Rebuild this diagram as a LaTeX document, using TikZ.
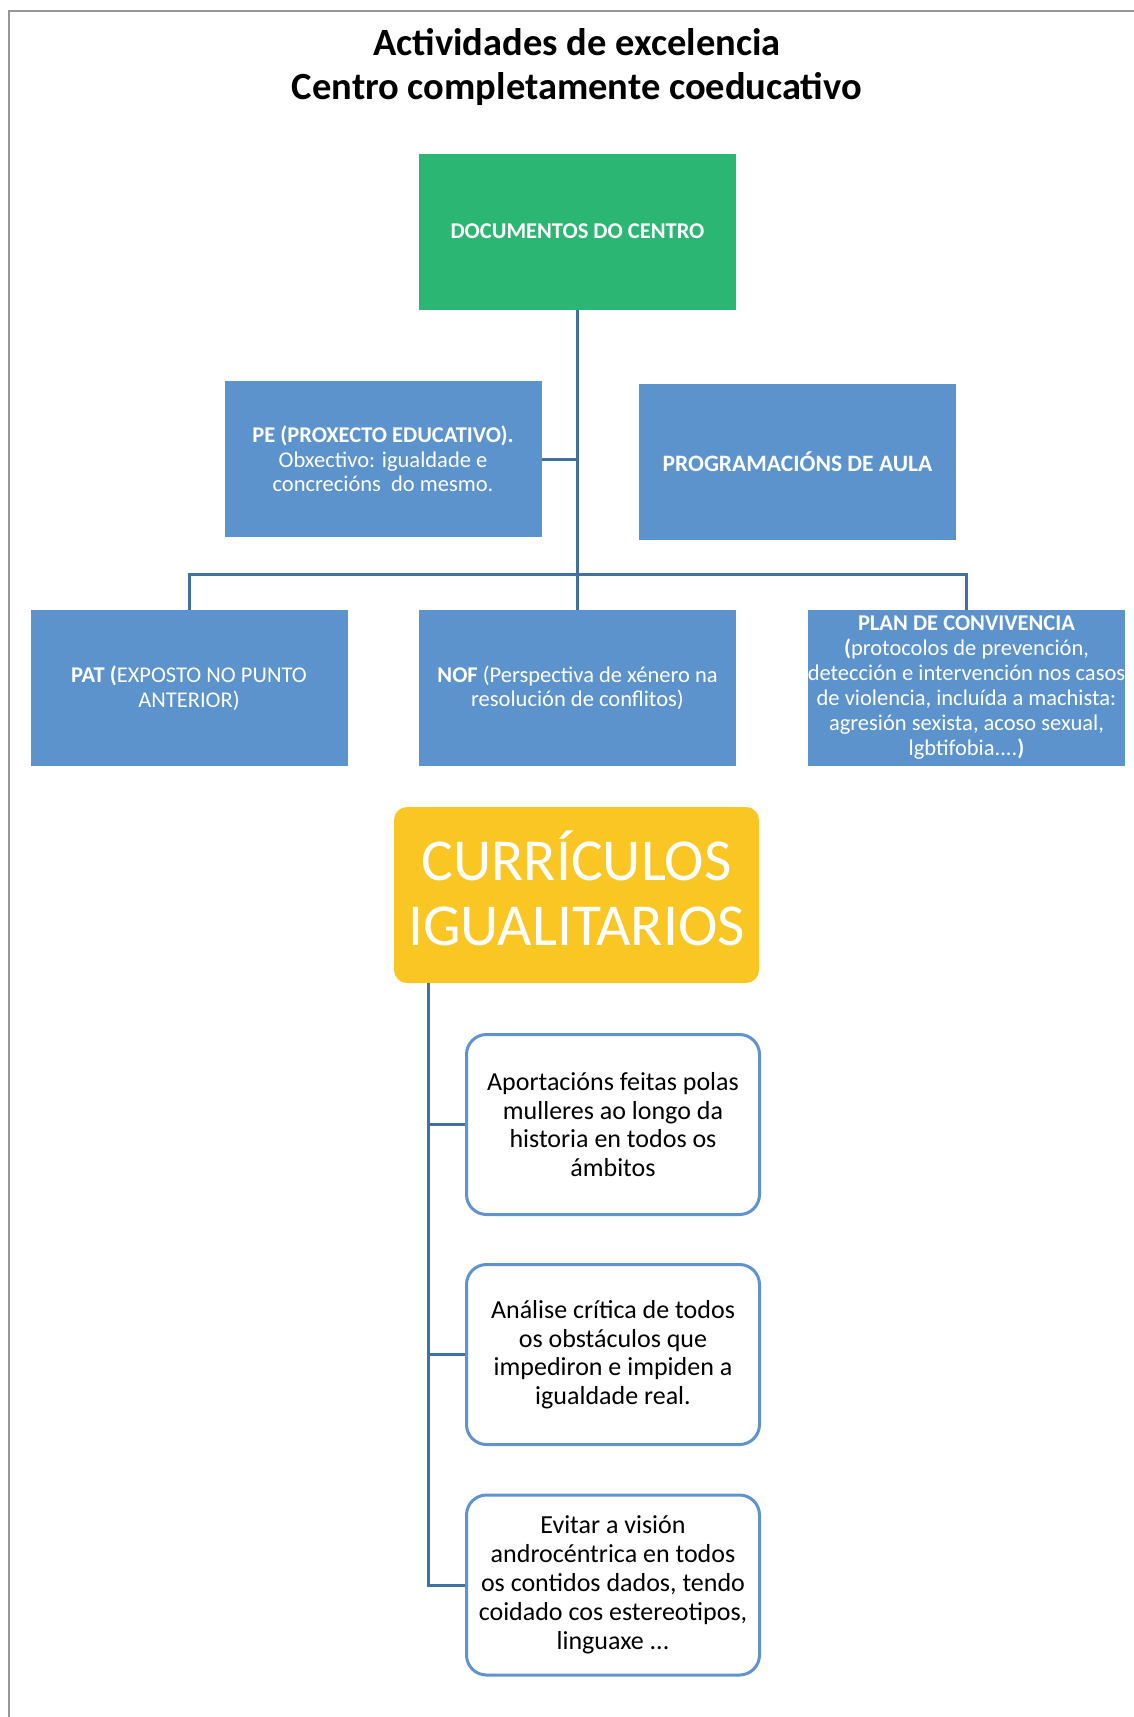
\documentclass[tikz,border=0pt]{standalone}
\usepackage{fontspec}
\setmainfont{Carlito}
\usetikzlibrary{positioning}
\definecolor{verde}{RGB}{43,182,115}
\definecolor{azul}{RGB}{92,147,204}
\definecolor{linha}{RGB}{66,112,160}
\definecolor{amarelo}{RGB}{249,198,35}
\definecolor{bordo}{RGB}{96,146,206}
\definecolor{marco}{RGB}{150,150,150}

\begin{document}
\begin{tikzpicture}[x=1pt,y=-1pt,on grid,
		cadro/.style={fill=azul,text=white,align=center,minimum width=317pt,minimum height=156pt,inner sep=0pt,font=\fontsize{22.5}{24.5}\selectfont},
		curricula/.style={draw=bordo,line width=3pt,rounded corners=20pt,fill=white,align=center,minimum width=293pt,minimum height=180pt,font=\fontsize{26}{28.5}\selectfont},
		conector/.style={draw=linha,line width=3pt}]
			\useasboundingbox (0,0) rectangle (1134,1717);
			\draw[marco,line width=2.5pt] (9,1717) -- (9,11) -- (1134,11);
			\node[align=center,font=\fontsize{38.5}{44}\selectfont\bfseries] (titulo) at (577,67) {Actividades de excelencia\\Centro completamente coeducativo};
			% documentos do centro
			\node[cadro,fill=verde,font=\fontsize{22.5}{24}\selectfont\bfseries] (doc) at (577.5,231.5) {DOCUMENTOS DO CENTRO};
			\node[cadro] (pe) at (383,459) {\textbf{PE (PROXECTO EDUCATIVO).}\\Obxectivo: igualdade e\\concrecións\ \ do mesmo.};
			\node[cadro,font=\fontsize{23.5}{24}\selectfont\bfseries] (prog) at (797.5,461.5) {PROGRAMACIÓNS DE AULA};
			\node[cadro] (nof) at (577.5,688) {\textbf{NOF} (Perspectiva de xénero na\\resolución de conflitos)};
			\node[cadro] (pat) [left=388.5pt of nof] {\textbf{PAT (}EXPOSTO NO PUNTO\\ANTERIOR)};
			\node[cadro,font=\fontsize{22.5}{25}\selectfont] (plan) [right=389pt of nof] {\textbf{PLAN DE CONVIVENCIA}\\\textbf{(}protocolos de prevención,\\detección e intervención nos casos\\de violencia, incluída a machista:\\agresión sexista, acoso sexual,\\lgbtifobia....\textbf{)}};
			\coordinate (xunta) at (577.5,574);
			\draw[conector] (doc.south) -- (nof.north);
			\draw[conector] (pat.north) |- (xunta) -| (plan.north);
			\draw[conector] (pe.east) -- (pe.east -| doc.south);
			% curriculos igualitarios
			\node[fill=amarelo,text=white,rounded corners=13pt,align=center,minimum width=365pt,minimum height=176pt,text depth=13pt,font=\fontsize{59.5}{65}\selectfont] (curr) at (576.5,895) {CURRÍCULOS\\IGUALITARIOS};
			\node[curricula] (c1) at (613,1124.5) {Aportacións feitas polas\\mulleres ao longo da\\historia en todos os\\ámbitos};
			\node[curricula] (c2) [below=230pt of c1] {Análise crítica de todos\\os obstáculos que\\impediron e impiden a\\igualdade real.};
			\node[curricula,font=\fontsize{26}{29}\selectfont] (c3) [below=230.5pt of c2] {Evitar a visión\\androcéntrica en todos\\os contidos dados, tendo\\coidado cos estereotipos,\\linguaxe ...};
			\coordinate (tronco) at ([xshift=35pt]curr.south west);
			\draw[conector] (tronco) |- (c3.west);
			\draw[conector] (tronco |- c1.west) -- (c1.west);
			\draw[conector] (tronco |- c2.west) -- (c2.west);
		\end{tikzpicture}
\end{document}
